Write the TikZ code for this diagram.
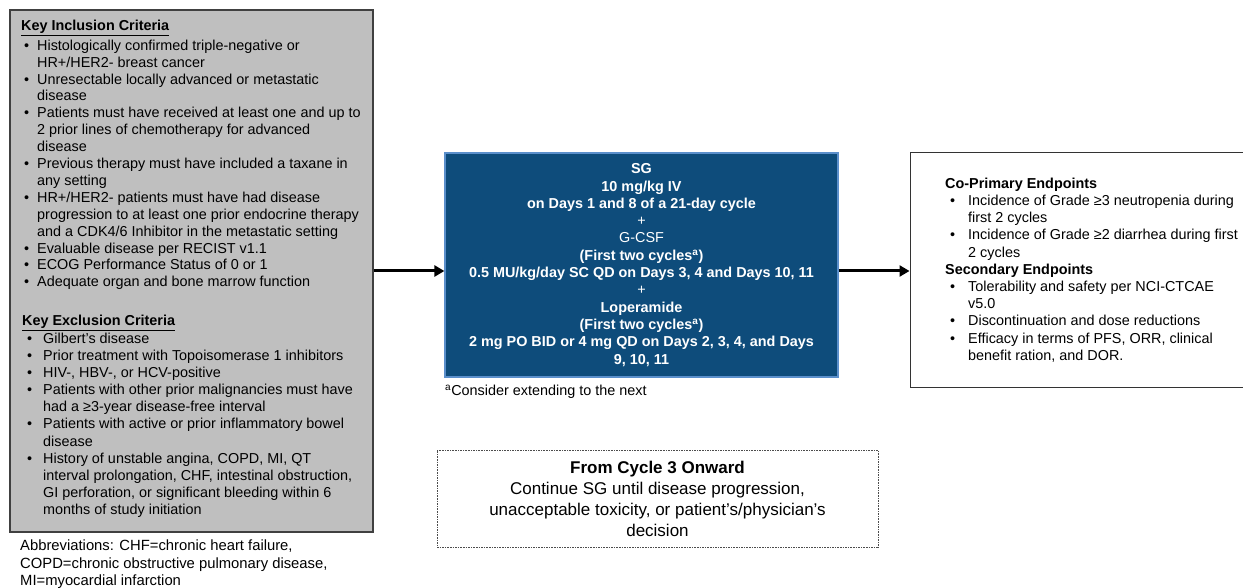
\documentclass[tikz,border=0pt]{standalone}
\usepackage{fontspec}
\setmainfont{Liberation Sans}
\usetikzlibrary{arrows.meta,positioning}
\definecolor{critgray}{HTML}{BFBFBF}
\definecolor{trtblue}{HTML}{0E4C7B}
\definecolor{trtedge}{HTML}{5B8FCB}
\newcommand{\bulitem}[2]{\makebox[#1][l]{\hspace{#2}\textbullet}}
\newcommand{\bulcont}[1]{\hspace*{#1}}
\tikzset{
  crit box/.style={draw=black!75, line width=1.3pt, fill=critgray, inner sep=0pt},
  trt box/.style={draw=trtedge, line width=1.2pt, fill=trtblue, text=white, inner sep=0pt,
    align=center, font=\fontsize{14.4}{17.3}\selectfont\bfseries},
  end box/.style={draw=black!80, line width=1pt, inner sep=0pt},
  later box/.style={draw=black!70, dash pattern=on 1.6pt off 1pt, line width=0.9pt, inner sep=0pt,
    align=center, font=\fontsize{17}{21}\selectfont},
  body/.style={inner sep=0pt, anchor=north west, align=left, font=\fontsize{14.4}{16.9}\selectfont},
  flow/.style={-{Triangle[length=10pt,width=11pt]}, line width=3pt},
}

\begin{document}
\begin{tikzpicture}[x=1pt,y=-1pt]
  \useasboundingbox (0,0) rectangle (1243,588);

  % Eligibility
  \node[crit box, minimum width=363pt, minimum height=522pt] (elig) at (191.5,271) {};
  \node[body] (incl) at (21,19.7) {\underline{\textbf{Key Inclusion Criteria}}\\[3pt]
    \bulitem{16pt}{3pt}Histologically confirmed triple-negative or\\
    \bulcont{16pt}HR+/HER2- breast cancer\\
    \bulitem{16pt}{3pt}Unresectable locally advanced or metastatic\\
    \bulcont{16pt}disease\\
    \bulitem{16pt}{3pt}Patients must have received at least one and up to\\
    \bulcont{16pt}2 prior lines of chemotherapy for advanced\\
    \bulcont{16pt}disease\\
    \bulitem{16pt}{3pt}Previous therapy must have included a taxane in\\
    \bulcont{16pt}any setting\\
    \bulitem{16pt}{3pt}HR+/HER2- patients must have had disease\\
    \bulcont{16pt}progression to at least one prior endocrine therapy\\
    \bulcont{16pt}and a CDK4/6 Inhibitor in the metastatic setting\\
    \bulitem{16pt}{3pt}Evaluable disease per RECIST v1.1\\
    \bulitem{16pt}{3pt}ECOG Performance Status of 0 or 1\\
    \bulitem{16pt}{3pt}Adequate organ and bone marrow function};
  \node[body, font=\fontsize{14.4}{17.1}\selectfont] (excl) at (22,314.7) {\underline{\textbf{Key Exclusion Criteria}}\\[1pt]
    \bulitem{21pt}{5pt}Gilbert's disease\\
    \bulitem{21pt}{5pt}Prior treatment with Topoisomerase 1 inhibitors\\
    \bulitem{21pt}{5pt}HIV-, HBV-, or HCV-positive\\
    \bulitem{21pt}{5pt}Patients with other prior malignancies must have\\
    \bulcont{21pt}had a ≥3-year disease-free interval\\
    \bulitem{21pt}{5pt}Patients with active or prior inflammatory bowel\\
    \bulcont{21pt}disease\\
    \bulitem{21pt}{5pt}History of unstable angina, COPD, MI, QT\\
    \bulcont{21pt}interval prolongation, CHF, intestinal obstruction,\\
    \bulcont{21pt}GI perforation, or significant bleeding within 6\\
    \bulcont{21pt}months of study initiation};
  \node[body, font=\fontsize{14.8}{17.5}\selectfont] (abbr) at (20,540) {Abbreviations: CHF=chronic heart failure,\\
    COPD=chronic obstructive pulmonary disease,\\
    MI=myocardial infarction};

  % Treatment
  \node[trt box, minimum width=393pt, minimum height=224pt] (trt) at (641.5,265) {SG\\
    10 mg/kg IV\\
    on Days 1 and 8 of a 21-day cycle\\
    {\mdseries +}\\
    {\mdseries G-CSF}\\
    (First two cycles\textsuperscript{a})\\
    0.5 MU/kg/day  SC QD on Days 3, 4 and Days 10, 11\\
    {\mdseries +}\\
    Loperamide\\
    (First two cycles\textsuperscript{a})\\
    2 mg PO BID or 4 mg QD on Days 2, 3, 4, and Days\\
    9, 10, 11};
  \node[body] (note) at (445,384.5) {\textsuperscript{a}Consider extending to the next};

  % Endpoints
  \node[end box, minimum width=353pt, minimum height=234pt] (endp) at (1086.5,270) {};
  \node[body, font=\fontsize{14.4}{17.2}\selectfont] (ends) at (945,177.7) {\textbf{Co-Primary Endpoints}\\
    \bulitem{23pt}{5pt}Incidence of Grade ≥3 neutropenia during\\
    \bulcont{23pt}first 2 cycles\\
    \bulitem{23pt}{5pt}Incidence of Grade ≥2 diarrhea during first\\
    \bulcont{23pt}2 cycles\\
    \textbf{Secondary Endpoints}\\
    \bulitem{23pt}{5pt}Tolerability and safety per NCI-CTCAE\\
    \bulcont{23pt}v5.0\\
    \bulitem{23pt}{5pt}Discontinuation and dose reductions\\
    \bulitem{23pt}{5pt}Efficacy in terms of PFS, ORR, clinical\\
    \bulcont{23pt}benefit ration, and DOR.};

  % From cycle 3
  \node[later box, minimum width=441pt, minimum height=97pt] (later) at (657.5,498.5) {\textbf{From Cycle 3 Onward}\\
    Continue SG until disease progression,\\
    unacceptable toxicity, or patient's/physician's\\
    decision};

  % Arrows
  \draw[flow] (elig.east) -- (elig.east -| trt.west);
  \draw[flow] (trt.east |- elig.east) -- (endp.west |- elig.east);
\end{tikzpicture}
\end{document}
